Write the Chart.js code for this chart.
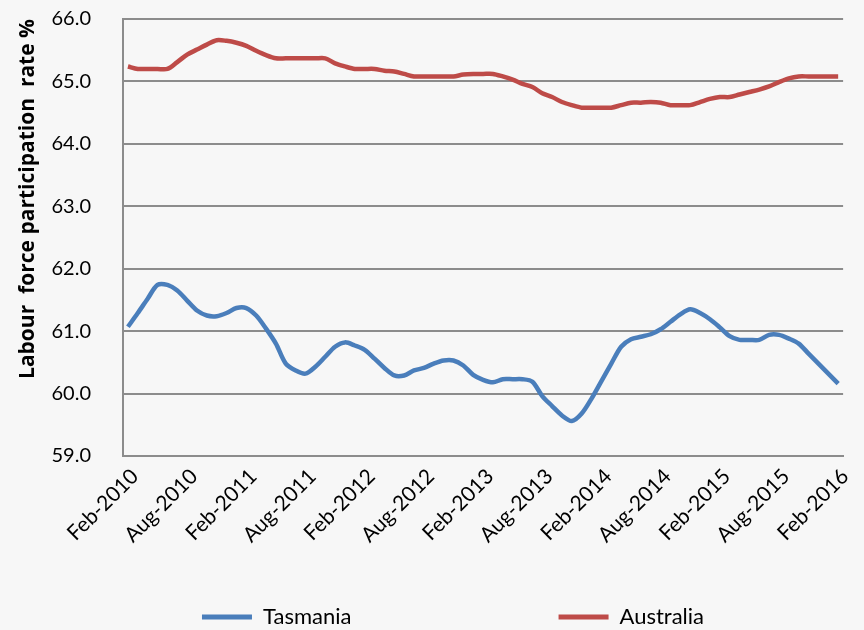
<!DOCTYPE html>
<html>
<head>
<meta charset="utf-8">
<script src="https://cdn.jsdelivr.net/npm/chart.js@4/dist/chart.umd.min.js"></script>
<style>
  html, body { margin: 0; padding: 0; background: #f7f7f7; }
  #wrap { position: relative; width: 864px; height: 630px; }
</style>
</head>
<body>
<div id="wrap"><canvas id="c" width="864" height="630"></canvas></div>
<script>
// ---- data ----
const monthNames = ['Jan','Feb','Mar','Apr','May','Jun','Jul','Aug','Sep','Oct','Nov','Dec'];
const startYear = 2010, startMonth = 1, monthCount = 73; // Feb-2010 .. Feb-2016
const categories = [];
for (let k = 0; k < monthCount; k++) {
  const m = (startMonth + k) % 12, y = startYear + Math.floor((startMonth + k) / 12);
  categories.push(monthNames[m] + '-' + y);
}
const tickLabels = ['Feb-2010','Aug-2010','Feb-2011','Aug-2011','Feb-2012','Aug-2012','Feb-2013',
                    'Aug-2013','Feb-2014','Aug-2014','Feb-2015','Aug-2015','Feb-2016'];
const tasmania = [
  61.07,61.29,61.52,61.74,61.74,61.65,61.49,61.33,61.25,61.24,61.29,61.37,61.37,61.25,61.04,60.80,
  60.48,60.37,60.32,60.43,60.59,60.75,60.82,60.77,60.70,60.56,60.41,60.29,60.29,60.37,60.41,60.48,
  60.53,60.53,60.45,60.30,60.22,60.18,60.23,60.23,60.23,60.19,59.96,59.80,59.65,59.56,59.68,59.92,
  60.20,60.48,60.75,60.87,60.91,60.95,61.03,61.15,61.27,61.35,61.29,61.19,61.06,60.92,60.86,60.86,
  60.86,60.94,60.94,60.88,60.80,60.64,60.48,60.32,60.16
];
const australia = [
  65.24,65.20,65.20,65.20,65.20,65.31,65.43,65.51,65.59,65.66,65.65,65.62,65.57,65.49,65.42,65.37,
  65.37,65.37,65.37,65.37,65.37,65.29,65.24,65.20,65.20,65.20,65.17,65.16,65.12,65.08,65.08,65.08,
  65.08,65.08,65.11,65.12,65.12,65.12,65.08,65.03,64.96,64.91,64.81,64.75,64.67,64.62,64.58,64.58,
  64.58,64.58,64.62,64.66,64.66,64.67,64.66,64.62,64.62,64.62,64.67,64.72,64.75,64.75,64.79,64.83,
  64.87,64.92,64.99,65.05,65.08,65.08,65.08,65.08,65.08
];
const seriesNames = ['Tasmania', 'Australia'];
const yTicks = [59, 60, 61, 62, 63, 64, 65, 66];

// ---- chart ----
const FONT = "Lato, 'Open Sans', 'Liberation Sans', sans-serif";
const TITLE_FONT = "'Open Sans', Lato, sans-serif";
const BLUE = '#4a7ebb', RED = '#be4b48';
const LEGEND_SIZE = 22;

const mctx = document.createElement('canvas').getContext('2d');
mctx.font = LEGEND_SIZE + 'px ' + FONT;
function padText(t, target) {
  const sw = mctx.measureText(' ').width;
  const n = Math.max(0, Math.round((target - mctx.measureText(t).width) / sw));
  return t + ' '.repeat(n);
}

const bgPlugin = {
  id: 'bg',
  beforeDraw(chart) {
    const c = chart.ctx;
    c.save(); c.fillStyle = '#f7f7f7'; c.fillRect(0, 0, chart.width, chart.height); c.restore();
  }
};

new Chart(document.getElementById('c'), {
  type: 'line',
  data: {
    labels: categories,
    datasets: [
      { label: seriesNames[0], data: tasmania, borderColor: BLUE, backgroundColor: BLUE,
        borderWidth: 4.5, pointRadius: 0, tension: 0.3, fill: false },
      { label: seriesNames[1], data: australia, borderColor: RED, backgroundColor: RED,
        borderWidth: 4.5, pointRadius: 0, tension: 0.3, fill: false }
    ]
  },
  options: {
    responsive: false,
    animation: false,
    devicePixelRatio: 1,
    layout: { padding: { left: 44, right: 2, top: 19, bottom: -8 } },
    plugins: {
      tooltip: { enabled: false },
      legend: {
        position: 'bottom',
        labels: {
          font: { family: FONT, size: LEGEND_SIZE },
          color: '#000',
          boxWidth: 50,
          boxHeight: 5,
          padding: 10,
          generateLabels(chart) {
            const items = Chart.defaults.plugins.legend.labels.generateLabels(chart);
            items.forEach((it, i) => {
              it.lineWidth = 0;
              if (i === 0) it.text = padText(it.text, 284);
            });
            return items;
          }
        }
      }
    },
    scales: {
      x: {
        type: 'category',
        offset: true,
        grid: { display: false, drawTicks: false },
        border: { display: true, color: '#8c8c8c', width: 2 },
        ticks: {
          autoSkip: false,
          minRotation: 45,
          maxRotation: 45,
          padding: 8,
          labelOffset: 7,
          color: '#000',
          font: { family: FONT, size: 21 },
          callback(v, i) { return tickLabels.includes(categories[i]) ? categories[i] : ''; }
        },
        afterFit(s) { s.height = 140; }
      },
      y: {
        min: 59, max: 66,
        grid: { color: '#8c8c8c', lineWidth: 2, drawTicks: false },
        border: { display: true, color: '#8c8c8c', width: 2 },
        afterBuildTicks(s) { s.ticks = yTicks.map(v => ({ value: v })); },
        ticks: {
          padding: 32,
          color: '#000',
          font: { family: FONT, size: 20 },
          callback(v) { return Number(v).toFixed(1); }
        },
        title: {
          display: true,
          text: 'Labour  force participation  rate %',
          align: 'end',
          color: '#000',
          font: { family: TITLE_FONT, size: 21, weight: 'bold' },
          padding: { top: -29, bottom: 0 }
        },
        afterFit(s) { s.width = 79; s.paddingTop = 0; s.paddingBottom = 0; }
      }
    }
  },
  plugins: [bgPlugin]
});
</script>
</body>
</html>
